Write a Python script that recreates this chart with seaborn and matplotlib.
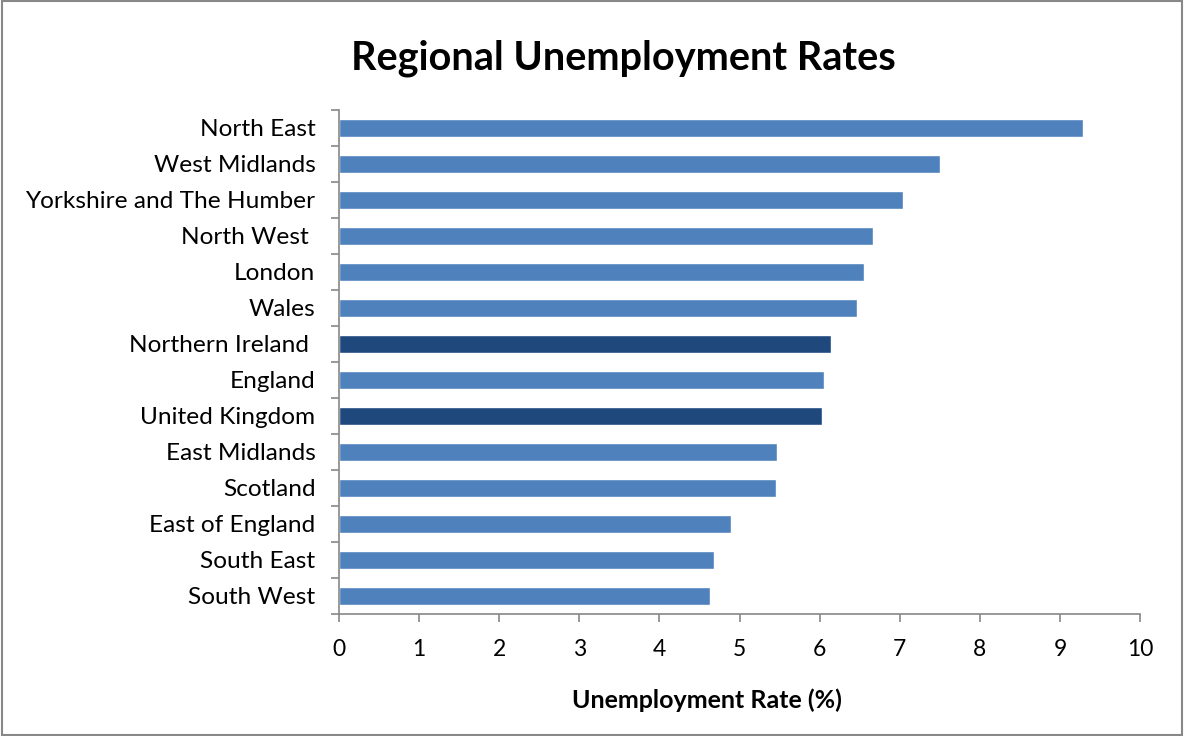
import seaborn as sns
import matplotlib.pyplot as plt
import pandas as pd
from matplotlib.ticker import FixedLocator

regions = ['North East', 'West Midlands', 'Yorkshire and The Humber', 'North West ',
           'London', 'Wales', 'Northern Ireland ', 'England', 'United Kingdom',
           'East Midlands', 'Scotland', 'East of England', 'South East', 'South West']
rates = [9.29, 7.50, 7.04, 6.67, 6.55, 6.47, 6.14, 6.05, 6.03, 5.47, 5.46, 4.89, 4.68, 4.63]
highlight = ['Northern Ireland ', 'United Kingdom']

df = pd.DataFrame({'region': regions, 'rate': rates})
palette = {r: ('#1F497D' if r in highlight else '#4F81BD') for r in regions}

sns.set_style('white')
plt.rcParams['font.family'] = ['Lato', 'DejaVu Sans']
plt.rcParams['text.color'] = 'black'
plt.rcParams['xtick.color'] = '#888888'
plt.rcParams['ytick.color'] = '#888888'
plt.rcParams['xtick.labelcolor'] = 'black'
plt.rcParams['ytick.labelcolor'] = 'black'

fig = plt.figure(figsize=(11.84, 7.36), dpi=100)
ax = fig.add_axes([339 / 1184, 1 - 614 / 736, (1140 - 339) / 1184, (614 - 110) / 736])

sns.barplot(data=df, x='rate', y='region', hue='region', palette=palette,
            order=regions, width=0.5, legend=False, ax=ax, saturation=1)

ax.set_xlim(0, 10)
ax.set_ylim(len(regions) - 0.5, -0.5)
ax.set_xticks(range(0, 11))
ax.tick_params(axis='x', bottom=True, labelsize=16.5, length=6, width=1.2, pad=12)
ax.tick_params(axis='y', which='major', left=False, length=0, labelsize=17.6, pad=17)
ax.yaxis.set_minor_locator(FixedLocator([i - 0.5 for i in range(len(regions) + 1)]))
ax.tick_params(axis='y', which='minor', left=True, length=6, width=1.2)

for side in ['top', 'right']:
    ax.spines[side].set_visible(False)
for side in ['left', 'bottom']:
    ax.spines[side].set_color('#888888')
    ax.spines[side].set_linewidth(1.2)

ax.set_ylabel('')
ax.set_xlabel('Unemployment Rate (%)', fontsize=18, fontweight='bold', color='black')
ax.xaxis.set_label_coords((707 - 339) / (1140 - 339), -(700 - 614) / (614 - 110))
ax.xaxis.label.set_verticalalignment('center')
fig.suptitle('Regional Unemployment Rates', fontsize=28.5, fontweight='bold', y=0.946, x=623 / 1184,
             color='black')

fig.patches.append(plt.Rectangle((0.002, 0.002), 0.996, 0.996, transform=fig.transFigure,
                                 fill=False, edgecolor='#888888', linewidth=1.5))

fig.savefig('out.png', dpi=100)
